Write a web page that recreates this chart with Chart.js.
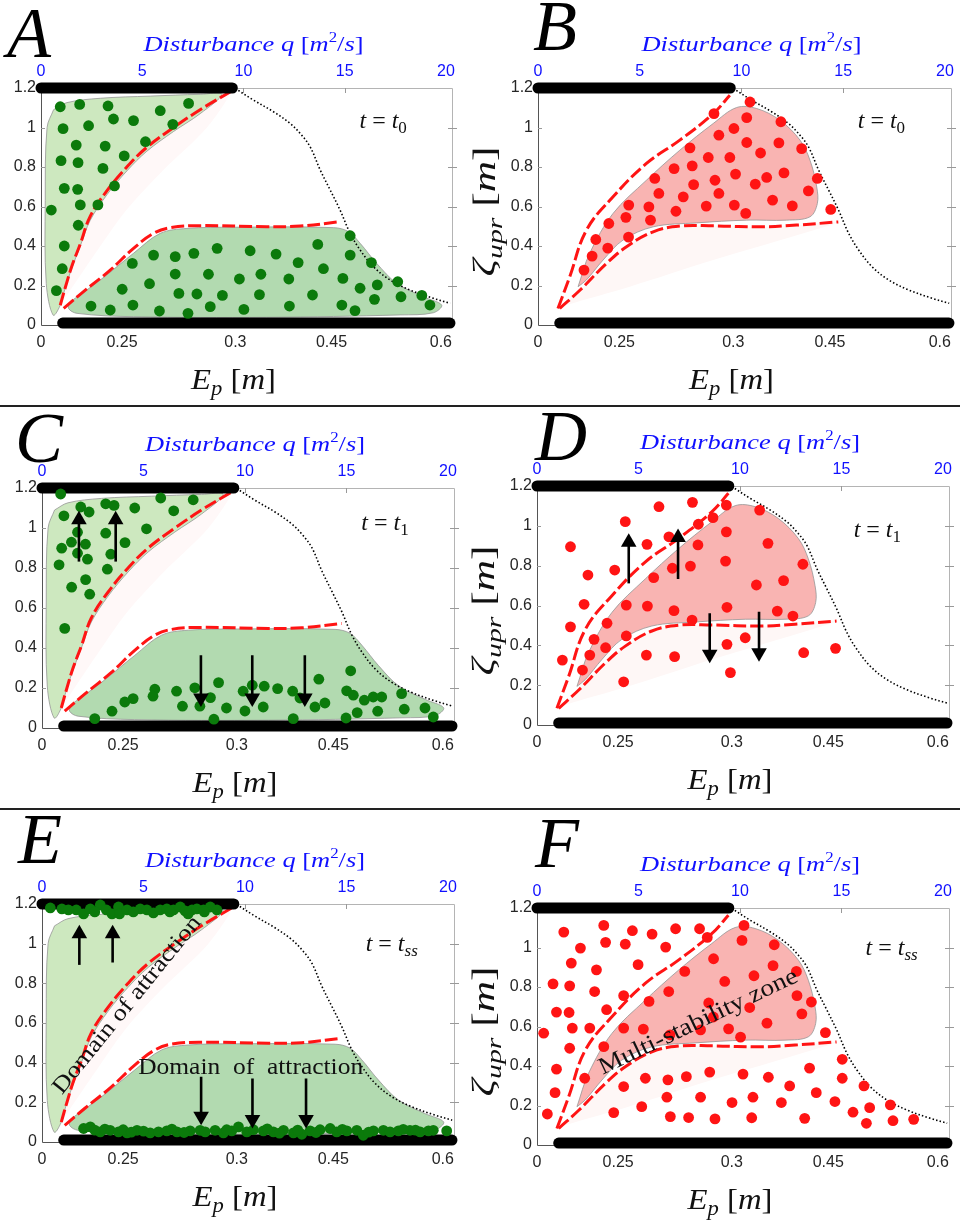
<!DOCTYPE html>
<html>
<head>
<meta charset="utf-8">
<script src="https://cdn.jsdelivr.net/npm/chart.js@4.4.1/dist/chart.umd.min.js"></script>
<style>
  body { margin: 0; background: #fff; }
  #page { position: relative; width: 960px; height: 1222px; overflow: hidden; background: #fff; }
  .panel { position: absolute; }
  .panel canvas { display: block; }
  .rule { position: absolute; left: 0; width: 960px; height: 2px; background: #222; }
</style>
</head>
<body>
<div id="page">
  <div class="rule" style="top:405px"></div>
  <div class="rule" style="top:808px"></div>
</div>
<script>
// ---- axes ----
const Q_MAX = 20.3;
const qTicks = [0, 5, 10, 15, 20];
const epTickPos = [0, 4.0, 9.6, 14.35, 19.75];
const epTickLabels = ['0', '0.25', '0.3', '0.45', '0.6'];
const zTicks = [0, 0.2, 0.4, 0.6, 0.8, 1, 1.2];
const zTickLabels = ['0', '0.2', '0.4', '0.6', '0.8', '1', '1.2'];

// ---- stable states (top and bottom rows of black markers) ----
const topStateQ = [0, 9.45];
const topStateZ = [1.2, 1.2];
const bottomStateQ = [1.07, 20.2];
const bottomStateZ = [0.01, 0.01];

// critical curve (dotted)
const critQ = [9.59, 10.49, 11.48, 12.30, 12.80, 13.29, 13.79, 14.28, 14.77, 15.27, 15.76, 16.42, 17.24, 18.23, 19.38, 20.21];
const critZ = [1.198, 1.139, 1.080, 1.021, 0.970, 0.903, 0.785, 0.684, 0.582, 0.464, 0.380, 0.295, 0.228, 0.177, 0.135, 0.110];

// ---- separatrices, left column (A, C, E) ----
const upperSepQ_L = [0.95, 1.20, 1.53, 1.94, 2.43, 3.26, 4.24, 5.23, 6.55, 7.86, 9.34];
const upperSepZ_L = [0.10, 0.19, 0.30, 0.41, 0.55, 0.68, 0.80, 0.90, 1.00, 1.09, 1.18];
const lowerSepQ_L = [1.12, 2.10, 3.42, 4.57, 5.56, 6.38, 7.86, 11.15, 12.80, 14.77];
const lowerSepZ_L = [0.084, 0.169, 0.278, 0.388, 0.464, 0.493, 0.503, 0.498, 0.501, 0.523];

// ---- separatrices, right column (B, D, F) ----
const upperSepQ_R = [0.98, 1.56, 2.38, 3.69, 5.33, 6.97, 8.61, 9.43];
const upperSepZ_R = [0.084, 0.244, 0.48, 0.649, 0.818, 0.936, 1.07, 1.163];
const lowerSepQ_R = [1.07, 2.07, 3.37, 4.35, 5.66, 6.97, 8.61, 11.07, 12.71, 14.76];
const lowerSepZ_R = [0.084, 0.177, 0.312, 0.396, 0.472, 0.501, 0.502, 0.497, 0.506, 0.522];

// ---- domains ----
const basinUpQ = [0.62, 1.28, 2.93, 5.40, 7.86, 8.93, 7.86, 6.55, 5.23, 4.24, 3.26, 2.43, 1.94, 1.53, 1.20, 0.95, 0.60, 0.26, 0.21, 0.30, 0.62];
const basinUpZ = [1.09, 1.126, 1.148, 1.159, 1.168, 1.168, 1.07, 0.98, 0.88, 0.78, 0.66, 0.53, 0.40, 0.29, 0.19, 0.10, 0.05, 0.21, 0.63, 1.00, 1.09];
const basinLowQ = [1.45, 2.93, 4.57, 5.89, 7.21, 9.51, 14.44, 15.18, 15.76, 16.58, 17.57, 18.88, 19.79, 19.38, 17.74, 11.15, 4.57, 1.78, 1.36, 1.45];
const basinLowZ = [0.118, 0.228, 0.363, 0.464, 0.489, 0.495, 0.493, 0.473, 0.414, 0.312, 0.211, 0.143, 0.101, 0.062, 0.051, 0.039, 0.042, 0.059, 0.084, 0.118];
const gapLeftQ = [0.95, 1.53, 2.43, 3.26, 4.24, 5.23, 6.55, 7.86, 9.34, 8.2, 6.0, 4.2, 2.8, 1.6, 0.95];
const gapLeftZ = [0.10, 0.30, 0.55, 0.68, 0.80, 0.90, 1.00, 1.09, 1.18, 1.0, 0.78, 0.58, 0.38, 0.2, 0.10];
const multiQ = [1.97, 2.54, 3.69, 5.33, 6.97, 8.61, 9.76, 10.75, 11.89, 12.88, 13.37, 13.70, 13.73, 13.37, 12.22, 10.26, 7.79, 5.66, 4.18, 3.20, 2.38, 1.97];
const multiZ = [0.194, 0.363, 0.565, 0.733, 0.885, 1.020, 1.101, 1.096, 1.037, 0.936, 0.834, 0.699, 0.615, 0.548, 0.531, 0.531, 0.517, 0.497, 0.430, 0.329, 0.228, 0.194];
const gapRightQ = [1.07, 2.07, 3.37, 4.35, 5.66, 6.97, 8.61, 11.07, 12.71, 14.76, 13.54, 8.61, 4.51, 1.40, 1.07];
const gapRightZ = [0.084, 0.177, 0.312, 0.396, 0.472, 0.501, 0.502, 0.497, 0.506, 0.522, 0.48, 0.329, 0.194, 0.101, 0.084];

// ---- initial conditions / trajectories ----
const dotsA_q = [0.95, 1.91, 3.31, 5.89, 7.29, 1.09, 2.35, 3.58, 4.57, 6.51, 1.74, 3.17, 5.16, 0.99, 1.83, 3.06, 4.11, 1.15, 1.81, 3.63, 0.51, 1.94, 2.81, 1.84, 1.15, 1.05, 0.76,
  15.27, 13.67, 8.70, 10.33, 11.61, 5.56, 6.63, 7.55, 15.27, 4.51, 12.70, 16.32, 13.95, 6.63, 8.27, 9.80, 10.86, 12.24, 14.91, 5.36, 16.61, 17.62, 4.01, 15.76, 6.81, 7.70, 8.96, 10.79, 13.41, 16.47, 17.78, 18.81, 2.47, 4.54, 8.36, 12.27, 14.86, 19.21, 3.42, 5.85, 7.26, 10.02, 15.51];
const dotsA_z = [1.105, 1.117, 1.109, 1.085, 1.122, 0.994, 1.009, 1.043, 1.035, 1.016, 0.911, 0.906, 0.928, 0.832, 0.822, 0.793, 0.856, 0.692, 0.687, 0.704, 0.582, 0.608, 0.608, 0.505, 0.400, 0.285, 0.174,
  0.452, 0.408, 0.388, 0.376, 0.359, 0.354, 0.346, 0.363, 0.354, 0.312, 0.316, 0.316, 0.285, 0.258, 0.257, 0.233, 0.257, 0.233, 0.236, 0.209, 0.203, 0.219, 0.181, 0.186, 0.160, 0.157, 0.150, 0.154, 0.152, 0.130, 0.143, 0.150, 0.096, 0.101, 0.093, 0.096, 0.101, 0.101, 0.076, 0.071, 0.059, 0.079, 0.073];

const dotsB_q = [10.42, 8.65, 10.26, 11.94, 9.63, 8.89, 10.26, 11.84, 7.47, 12.96, 10.94, 8.37, 9.43, 6.69, 7.58, 5.74, 8.70, 9.71, 11.24, 12.09, 13.73, 10.68, 7.65, 5.94, 8.89, 7.14, 13.29, 4.46, 5.45, 8.27, 9.65, 11.53, 12.50, 14.39, 6.78, 10.21, 4.32, 5.53, 3.48, 2.84, 4.45, 3.43, 2.66, 2.26];
const dotsB_z = [1.129, 1.070, 1.050, 1.029, 0.995, 0.961, 0.924, 0.922, 0.897, 0.893, 0.871, 0.848, 0.848, 0.792, 0.806, 0.742, 0.733, 0.764, 0.747, 0.770, 0.742, 0.713, 0.711, 0.666, 0.666, 0.649, 0.679, 0.607, 0.598, 0.602, 0.607, 0.632, 0.603, 0.585, 0.576, 0.565, 0.545, 0.531, 0.514, 0.433, 0.445, 0.389, 0.349, 0.278];

const dotsC_q = [0.92, 1.91, 2.32, 3.14, 3.55, 4.57, 5.85, 7.45, 6.49, 1.08, 1.75, 3.14, 5.15, 0.97, 1.45, 2.14, 4.09, 1.75, 3.39, 2.24, 0.84, 3.22, 1.46, 2.15, 2.35, 1.12,
  15.21, 13.64, 8.70, 5.56, 6.63, 7.53, 9.91, 10.36, 10.95, 11.61, 12.35, 15.01, 15.34, 17.72, 16.32, 16.74, 15.88, 8.30, 5.47, 4.49, 4.08, 6.92, 7.78, 9.09, 10.90, 13.45, 13.94, 17.85, 18.87, 3.45, 10.00, 15.53, 16.54, 2.60, 8.47, 12.38, 14.98, 19.28, 12.71];
const dotsC_z = [1.170, 1.105, 1.080, 1.121, 1.113, 1.100, 1.150, 1.141, 1.086, 1.061, 0.979, 0.974, 0.996, 0.899, 0.929, 0.919, 0.927, 0.874, 0.869, 0.844, 0.816, 0.794, 0.704, 0.742, 0.669, 0.498,
  0.286, 0.244, 0.227, 0.194, 0.184, 0.201, 0.184, 0.214, 0.209, 0.197, 0.184, 0.186, 0.164, 0.172, 0.155, 0.155, 0.139, 0.152, 0.159, 0.147, 0.130, 0.109, 0.109, 0.100, 0.105, 0.105, 0.125, 0.094, 0.100, 0.084, 0.085, 0.077, 0.084, 0.047, 0.044, 0.047, 0.050, 0.055, 0.150];

const dotsD_q = [9.33, 7.66, 6.01, 10.97, 4.35, 7.95, 8.67, 9.33, 6.50, 5.42, 7.93, 1.65, 11.38, 9.29, 13.10, 3.83, 6.67, 7.56, 2.51, 5.75, 10.81, 12.15, 2.32, 4.40, 5.44, 6.75, 9.36, 11.84, 12.61, 7.64, 1.65, 3.45, 4.40, 2.81, 2.60, 3.38, 5.39, 6.78, 9.36, 10.26, 13.14, 14.71, 1.25, 2.24, 9.53, 4.27];
const dotsD_z = [1.104, 1.118, 1.096, 1.079, 1.021, 1.008, 1.041, 0.970, 0.945, 0.907, 0.904, 0.895, 0.912, 0.823, 0.807, 0.778, 0.787, 0.798, 0.753, 0.740, 0.703, 0.725, 0.606, 0.602, 0.597, 0.574, 0.591, 0.572, 0.547, 0.527, 0.493, 0.511, 0.447, 0.430, 0.351, 0.388, 0.351, 0.343, 0.405, 0.438, 0.363, 0.385, 0.326, 0.276, 0.263, 0.217];

const dotsE_q = [0.41, 0.98, 1.69, 2.05, 2.38, 2.87, 3.17, 3.45, 3.77, 3.82, 4.19, 4.84, 5.17, 5.49, 5.82, 6.15, 6.48, 6.81, 7.05, 7.39, 7.63, 7.96, 8.29, 8.62, 1.3, 2.6, 4.5, 6.3, 7.2, 8.0,
  2.05, 2.38, 2.87, 3.36, 3.77, 4.19, 4.68, 5.33, 5.74, 6.15, 6.65, 7.30, 7.79, 8.04, 8.53, 8.94, 9.35, 9.68, 10.09, 10.42, 10.91, 11.40, 11.90, 12.39, 12.80, 13.21, 13.70, 14.20, 14.52, 15.02, 15.51, 15.83, 16.33, 16.82, 17.15, 17.56, 18.13, 18.63, 19.04, 19.28, 19.94,
  2.6, 3.1, 4.0, 4.4, 5.0, 6.4, 7.0, 9.1, 11.1, 11.7, 12.6, 13.5, 14.8, 16.1, 17.8, 18.4];
const dotsE_z = [1.18, 1.175, 1.17, 1.15, 1.175, 1.195, 1.17, 1.15, 1.185, 1.15, 1.17, 1.175, 1.17, 1.155, 1.17, 1.175, 1.17, 1.185, 1.165, 1.17, 1.175, 1.17, 1.185, 1.17, 1.17, 1.16, 1.16, 1.16, 1.15, 1.16,
  0.068, 0.076, 0.051, 0.059, 0.051, 0.046, 0.059, 0.046, 0.051, 0.056, 0.051, 0.056, 0.059, 0.051, 0.059, 0.046, 0.056, 0.076, 0.051, 0.062, 0.056, 0.051, 0.059, 0.046, 0.039, 0.056, 0.062, 0.068, 0.051, 0.056, 0.059, 0.034, 0.056, 0.059, 0.051, 0.056, 0.059, 0.051, 0.056, 0.059, 0.056,
  0.060, 0.065, 0.062, 0.050, 0.055, 0.065, 0.048, 0.062, 0.066, 0.045, 0.060, 0.048, 0.064, 0.050, 0.064, 0.060];

const dotsF_q = [3.29, 1.32, 4.70, 5.67, 6.83, 8.01, 10.20, 8.39, 2.14, 3.38, 4.35, 6.34, 10.10, 11.69, 1.69, 4.98, 8.70, 2.93, 11.63, 7.28, 12.78, 0.79, 1.61, 10.69, 9.25, 2.84, 4.27, 6.49, 5.52, 12.81, 8.46, 0.96, 1.58, 3.43, 13.52, 10.48, 13.05, 8.69, 11.33, 0.33, 1.74, 2.60, 4.27, 5.24, 8.06, 9.44, 6.55, 10.03, 14.21, 1.61, 3.29, 0.96, 15.04, 5.34, 6.45, 7.36, 8.51, 10.15, 11.40, 13.43, 15.04, 4.27, 12.45, 16.11, 0.89, 13.76, 6.40, 8.06, 10.64, 5.16, 9.61, 12.04, 14.68, 0.51, 3.78, 15.57, 16.39, 17.41, 6.57, 7.47, 8.77, 10.58, 13.19, 16.23, 17.54, 18.56, 2.35];
const dotsF_z = [1.112, 1.078, 1.085, 1.068, 1.095, 1.095, 1.112, 1.051, 0.997, 1.026, 1.017, 1.002, 1.036, 1.014, 0.921, 0.913, 0.943, 0.887, 0.908, 0.879, 0.879, 0.816, 0.806, 0.857, 0.828, 0.777, 0.756, 0.777, 0.727, 0.756, 0.719, 0.673, 0.671, 0.685, 0.724, 0.696, 0.664, 0.648, 0.617, 0.566, 0.592, 0.592, 0.592, 0.587, 0.583, 0.588, 0.558, 0.546, 0.569, 0.490, 0.498, 0.384, 0.434, 0.338, 0.330, 0.346, 0.369, 0.359, 0.343, 0.389, 0.338, 0.296, 0.299, 0.299, 0.265, 0.265, 0.242, 0.242, 0.242, 0.194, 0.215, 0.215, 0.220, 0.157, 0.164, 0.166, 0.189, 0.203, 0.144, 0.139, 0.132, 0.138, 0.135, 0.110, 0.123, 0.130, 0.338];

// arrows: q position, tail, head
const arrowsC_q = [1.82, 3.63, 7.83, 10.36, 12.95];
const arrowsC_tail = [0.832, 0.832, 0.364, 0.364, 0.364];
const arrowsC_head = [1.041, 1.041, 0.150, 0.150, 0.150];
const arrowsD_q = [4.52, 6.95, 8.51, 10.94];
const arrowsD_tail = [0.711, 0.733, 0.561, 0.569];
const arrowsD_head = [0.917, 0.942, 0.355, 0.363];
const arrowsE_q = [1.84, 3.48, 7.84, 10.37, 13.01];
const arrowsE_tail = [0.893, 0.905, 0.329, 0.320, 0.320];
const arrowsE_head = [1.050, 1.050, 0.130, 0.113, 0.113];

const SERIF = '"Liberation Serif", "DejaVu Serif", serif';
const SANS = '"Liberation Sans", Arial, sans-serif';
const GREEN = '#0b7a0b';
const RED = '#ff1414';

const panels = [
  { id: 'A', ox: 0, oy: 0, w: 480, h: 405, box: [41, 88, 452, 325], col: 'L', letter: [7, 57],
    dq: dotsA_q, dz: dotsA_z, color: GREEN, sub: '0', timeAt: [16.9, 1.0] },
  { id: 'B', ox: 460, oy: 0, w: 500, h: 405, box: [538, 88, 951, 325], col: 'R', letter: [533, 50],
    dq: dotsB_q, dz: dotsB_z, color: RED, sub: '0', timeAt: [16.88, 0.996] },
  { id: 'C', ox: 0, oy: 407, w: 480, h: 401, box: [42, 488, 454, 728], col: 'L', letter: [15, 462],
    dq: dotsC_q, dz: dotsC_z, color: GREEN, sub: '1', timeAt: [16.9, 0.991],
    arrows: [arrowsC_q, arrowsC_tail, arrowsC_head] },
  { id: 'D', ox: 460, oy: 407, w: 500, h: 401, box: [537, 486, 949, 725], col: 'R', letter: [535, 460],
    dq: dotsD_q, dz: dotsD_z, color: RED, sub: '1', timeAt: [16.77, 0.945],
    arrows: [arrowsD_q, arrowsD_tail, arrowsD_head] },
  { id: 'E', ox: 0, oy: 810, w: 480, h: 412, box: [42, 904, 454, 1142], col: 'L', letter: [18, 863],
    dq: dotsE_q, dz: dotsE_z, color: GREEN, sub: 'ss', timeAt: [17.23, 0.962],
    arrows: [arrowsE_q, arrowsE_tail, arrowsE_head] },
  { id: 'F', ox: 460, oy: 810, w: 500, h: 412, box: [537, 908, 949, 1145], col: 'R', letter: [535, 867],
    dq: dotsF_q, dz: dotsF_z, color: RED, sub: 'ss', timeAt: [17.47, 0.96] }
];

const pts = (qs, zs) => qs.map((q, i) => ({ x: q, y: zs[i] }));
const font = (size, italic) => (italic ? 'italic ' : '') + size + 'px ' + SERIF;

// draws a row of text runs centred on (x, y), optionally squeezed to a width
function drawRuns(ctx, runs, x, y, opt = {}) {
  let w = 0;
  runs.forEach(r => { ctx.font = r[1]; r.w = ctx.measureText(r[0]).width; w += r.w; });
  const k = opt.width ? opt.width / w : 1;
  ctx.save();
  ctx.translate(x, y);
  if (opt.angle) ctx.rotate(opt.angle * Math.PI / 180);
  ctx.scale(k, 1);
  ctx.textBaseline = opt.baseline || 'alphabetic';
  ctx.fillStyle = opt.color || '#111';
  let cx = opt.align === 'left' ? 0 : -w / 2;
  runs.forEach(r => { ctx.font = r[1]; ctx.fillText(r[0], cx, r[2] || 0); cx += r.w; });
  ctx.restore();
}

function fixSize(prop, size) {
  return s => {
    s[prop] = size;
    s.paddingLeft = s.paddingRight = s.paddingTop = s.paddingBottom = 0;
  };
}

function decor(p) {
  return {
    id: 'decor' + p.id,
    beforeDatasetsDraw(chart) {
      const ctx = chart.ctx;
      const { left, top, right, bottom } = chart.chartArea;
      const sx = chart.scales.x, sy = chart.scales.y;
      ctx.save();
      ctx.lineWidth = 1;
      ctx.strokeStyle = '#b4b4b4';
      ctx.beginPath();
      ctx.moveTo(left, top + 0.5); ctx.lineTo(right + 0.5, top + 0.5); ctx.lineTo(right + 0.5, bottom);
      ctx.stroke();
      ctx.strokeStyle = '#555';
      ctx.beginPath();
      ctx.moveTo(left + 0.5, top); ctx.lineTo(left + 0.5, bottom + 0.5); ctx.lineTo(right, bottom + 0.5);
      ctx.stroke();
      ctx.strokeStyle = '#999';
      ctx.beginPath();
      [5, 10, 15].forEach(q => {
        const x = Math.round(sx.getPixelForValue(q)) + 0.5;
        ctx.moveTo(x, top); ctx.lineTo(x, top + 5);
      });
      [0.2, 0.4, 0.6, 0.8, 1].forEach(z => {
        const y = Math.round(sy.getPixelForValue(z)) + 0.5;
        ctx.moveTo(right - 4, y); ctx.lineTo(right + 5, y);
        ctx.moveTo(left, y); ctx.lineTo(left + 4, y);
      });
      ctx.stroke();
      ctx.restore();
    },
    afterDraw(chart) {
      const ctx = chart.ctx;
      const { left, top, right, bottom } = chart.chartArea;
      const sx = chart.scales.x, sy = chart.scales.y;
      const cx = (left + right) / 2;

      // panel letter
      ctx.save();
      ctx.font = font(72, true);
      ctx.fillStyle = '#000';
      ctx.textBaseline = 'alphabetic';
      ctx.fillText(p.id, p.letter[0] - p.ox, p.letter[1] - p.oy);
      ctx.restore();

      // top axis title
      drawRuns(ctx, [
        ['Disturbance q ', font(22, true)], ['[', font(22)], ['m', font(22, true)],
        ['2', font(14), -9], ['/', font(22)], ['s', font(22, true)], [']', font(22)]
      ], cx + 7, top - 37, { width: 220, color: '#1010ff' });

      // bottom axis title
      drawRuns(ctx, [
        ['E', font(29, true)], ['p', font(20, true), 6], [' [', font(29)], ['m', font(29, true)], [']', font(29)]
      ], cx - 13, bottom + 64, { width: 85 });

      // left axis title, only the right column has room for it
      if (p.col === 'R') {
        drawRuns(ctx, [
          ['ζ', font(32, true)], ['upr', font(22, true), 7], [' [', font(32)], ['m', font(32, true)], [']', font(32)]
        ], left - 43, (top + bottom) / 2 + 5, { width: 130, angle: -90 });
      }

      // time stamp
      const subFont = p.sub === 'ss' ? font(17, true) : font(17);
      drawRuns(ctx, [
        ['t', font(24, true)], [' = ', font(24)], ['t', font(24, true)], [p.sub, subFont, 5]
      ], sx.getPixelForValue(p.timeAt[0]), sy.getPixelForValue(p.timeAt[1]), {});

      if (p.id === 'E') {
        drawRuns(ctx, [['Domain of attraction', font(23)]],
          sx.getPixelForValue(4.2), sy.getPixelForValue(0.69), { width: 222, angle: -51, baseline: 'middle' });
        drawRuns(ctx, [['Domain  of  attraction', font(23)]],
          sx.getPixelForValue(10.28), sy.getPixelForValue(0.374), { width: 225, baseline: 'middle' });
      }
      if (p.id === 'F') {
        drawRuns(ctx, [['Multi-stability zone', font(24)]],
          sx.getPixelForValue(7.95), sy.getPixelForValue(0.622), { width: 218, angle: -25.5, baseline: 'middle' });
      }
    }
  };
}

function buildPanel(p) {
  const wrap = document.createElement('div');
  wrap.className = 'panel';
  wrap.style.left = p.ox + 'px';
  wrap.style.top = p.oy + 'px';
  const canvas = document.createElement('canvas');
  canvas.width = p.w;
  canvas.height = p.h;
  wrap.appendChild(canvas);
  document.getElementById('page').insertBefore(wrap, document.querySelector('.rule'));

  const [L, T, R, B] = p.box;
  const leftCol = p.col === 'L';
  const ds = [];

  // shaded domains
  if (leftCol) {
    ds.push({ data: pts(gapLeftQ, gapLeftZ), fill: 'shape', backgroundColor: '#fff8f8', borderWidth: 0, tension: 0.3, pointRadius: 0, order: 9 });
    ds.push({ data: pts(basinUpQ, basinUpZ), fill: 'shape', backgroundColor: '#cde8bf', borderColor: 'rgba(150,150,150,0.8)', borderWidth: 1, tension: 0.35, pointRadius: 0, order: 8 });
    ds.push({ data: pts(basinLowQ, basinLowZ), fill: 'shape', backgroundColor: '#b2dab0', borderColor: 'rgba(150,150,150,0.8)', borderWidth: 1, tension: 0.35, pointRadius: 0, order: 8 });
  } else {
    ds.push({ data: pts(gapRightQ, gapRightZ), fill: 'shape', backgroundColor: '#fef7f6', borderWidth: 0, tension: 0.3, pointRadius: 0, order: 9 });
    ds.push({ data: pts(multiQ, multiZ), fill: 'shape', backgroundColor: '#f9b4b2', borderColor: 'rgba(150,150,150,0.8)', borderWidth: 1, tension: 0.35, pointRadius: 0, order: 8 });
  }

  // separatrices
  const sep = leftCol
    ? [[upperSepQ_L, upperSepZ_L], [lowerSepQ_L, lowerSepZ_L]]
    : [[upperSepQ_R, upperSepZ_R], [lowerSepQ_R, lowerSepZ_R]];
  sep.forEach(([qs, zs]) => ds.push({
    data: pts(qs, zs), borderColor: RED, borderWidth: 3, borderDash: [13, 4], tension: 0.4,
    pointRadius: 0, fill: false, order: 5, clip: false
  }));

  // critical curve
  ds.push({ data: pts(critQ, critZ), borderColor: '#000', borderWidth: 1.6, borderDash: [1.5, 2.2], tension: 0.35, pointRadius: 0, fill: false, order: 5, clip: false });

  // stable states
  [[topStateQ, topStateZ], [bottomStateQ, bottomStateZ]].forEach(([qs, zs]) => ds.push({
    data: pts(qs, zs), borderColor: '#000', borderWidth: 11, borderCapStyle: 'round', pointRadius: 0, fill: false, order: 4, clip: false
  }));

  // sampled states
  ds.push({ data: pts(p.dq, p.dz), showLine: false, pointRadius: 5.4, pointBackgroundColor: p.color, pointBorderWidth: 0, order: 2, clip: false });

  // arrows
  if (p.arrows) {
    const [aq, at, ah] = p.arrows;
    aq.forEach((q, i) => ds.push({
      data: pts([q, q], [at[i], ah[i]]), borderColor: '#000', borderWidth: 2.6,
      pointRadius: [0, 9], pointStyle: 'triangle', pointRotation: [0, ah[i] > at[i] ? 0 : 180],
      pointBackgroundColor: '#000', pointBorderWidth: 0, fill: false, order: 1, clip: false
    }));
  }

  const tickFont = { family: SANS, size: 16 };
  new Chart(canvas, {
    type: 'line',
    data: { datasets: ds },
    options: {
      responsive: false,
      animation: false,
      events: [],
      layout: { padding: 0, autoPadding: false },
      plugins: { legend: { display: false }, tooltip: { enabled: false } },
      scales: {
        x: {
          type: 'linear', position: 'top', min: 0, max: Q_MAX,
          grid: { display: false, drawTicks: false }, border: { display: false },
          afterBuildTicks: s => { s.ticks = qTicks.map(v => ({ value: v })); },
          ticks: { color: '#1010ff', font: tickFont, padding: 7, maxRotation: 0, autoSkip: false, callback: v => String(v) },
          afterFit: fixSize('height', T - p.oy)
        },
        xb: {
          type: 'linear', position: 'bottom', min: 0, max: Q_MAX,
          grid: { display: false, drawTicks: false }, border: { display: false },
          afterBuildTicks: s => { s.ticks = epTickPos.map(v => ({ value: v })); },
          ticks: { color: '#262626', font: tickFont, padding: 8, maxRotation: 0, autoSkip: false, callback: (v, i) => epTickLabels[i] },
          afterFit: fixSize('height', p.oy + p.h - B)
        },
        y: {
          type: 'linear', position: 'left', min: 0, max: 1.2,
          grid: { display: false, drawTicks: false }, border: { display: false },
          afterBuildTicks: s => { s.ticks = zTicks.map(v => ({ value: v })); },
          ticks: { color: '#262626', font: tickFont, padding: 5, autoSkip: false, callback: (v, i) => zTickLabels[i] },
          afterFit: fixSize('width', L - p.ox)
        },
        yr: {
          type: 'linear', position: 'right', min: 0, max: 1.2,
          grid: { display: false, drawTicks: false }, border: { display: false },
          ticks: { display: false },
          afterFit: fixSize('width', p.ox + p.w - R)
        }
      }
    },
    plugins: [decor(p)]
  });
}

panels.forEach(buildPanel);
</script>
</body>
</html>
